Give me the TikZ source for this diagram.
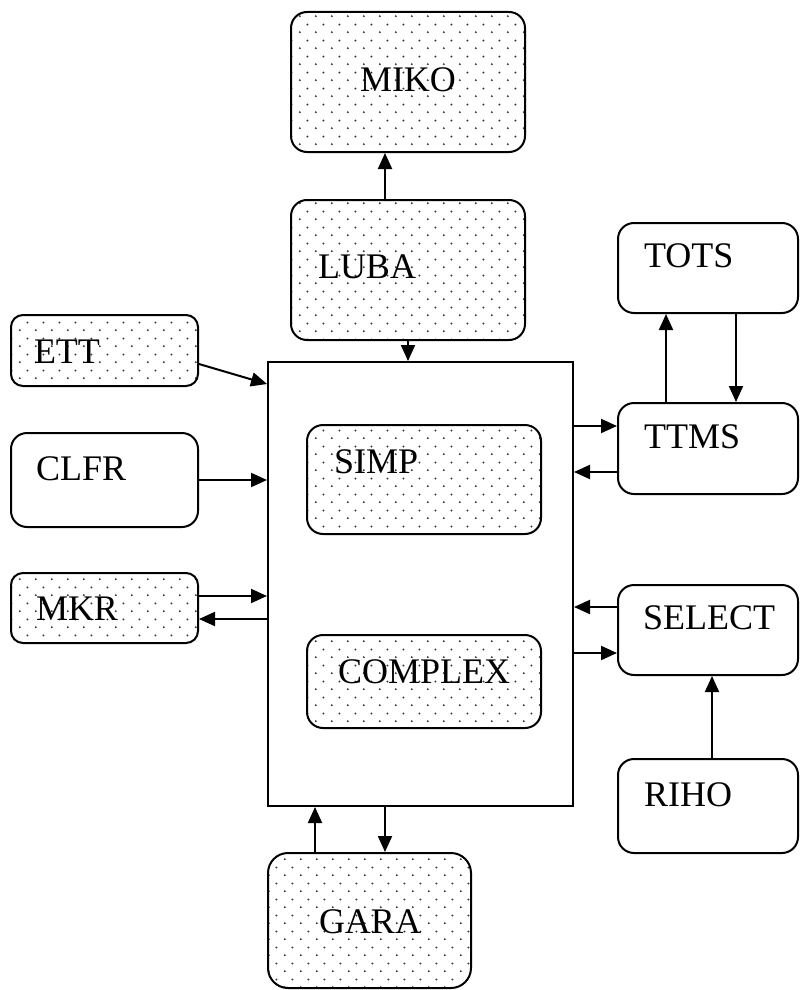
\documentclass[tikz,border=0pt]{standalone}
\usepackage{fontspec}
\setmainfont{Liberation Serif}
\usetikzlibrary{arrows.meta, calc, patterns.meta}

\tikzdeclarepattern{
name=finedots,
type=uncolored,
bounding box={(0pt,0pt) and (7.8pt,7.8pt)},
tile size={(7.8pt,7.8pt)},
code={
\fill (1.95pt,1.95pt) circle (0.55pt);
\fill (5.85pt,5.85pt) circle (0.55pt);
}
}

\begin{document}
\begin{tikzpicture}[
x=0.5pt, y=-0.5pt,
line width=1pt,
blk/.style={
rectangle,
draw,
rounded corners=8pt,
inner sep=0pt,
},
dotted blk/.style={
blk,
pattern=finedots,
pattern color=black!80,
},
txt/.style={
anchor=base west,
inner sep=0pt,
font=\fontsize{18}{20}\selectfont,
},
arr/.style={-{Triangle[length=8pt, width=7pt]}},
]

\useasboundingbox (0,0) rectangle (799,990);

% boxes
\node [dotted blk, minimum width=117pt, minimum height=70pt] at (408,82) (miko) {};
\node [dotted blk, minimum width=117pt, minimum height=70pt] at (408,270) (luba) {};
\node [dotted blk, rounded corners=6pt, minimum width=93.5pt, minimum height=35.5pt] at (104.5,350.5) (ett) {};
\node [blk, minimum width=93.5pt, minimum height=47pt] at (104.5,480) (clfr) {};
\node [dotted blk, rounded corners=6pt, minimum width=93.5pt, minimum height=35pt] at (104.5,608) (mkr) {};
\node [draw, rectangle, inner sep=0pt, minimum width=152.5pt, minimum height=222pt] at (420.5,584) (main) {};
\node [dotted blk, minimum width=117pt, minimum height=54.5pt] at (424,479.5) (simp) {};
\node [dotted blk, minimum width=117pt, minimum height=46.5pt] at (424,681.5) (complex) {};
\node [blk, minimum width=90pt, minimum height=45pt] at (708,268) (tots) {};
\node [blk, minimum width=90pt, minimum height=45.5pt] at (708,448.5) (ttms) {};
\node [blk, minimum width=90pt, minimum height=45pt] at (708,630) (select) {};
\node [blk, minimum width=90pt, minimum height=47pt] at (708,806) (riho) {};
\node [dotted blk, rounded corners=10pt, minimum width=101.5pt, minimum height=67.5pt] at (369.5,920.5) (gara) {};

% labels
\path[every node/.style={txt}]
(359,92) node (tmiko) {MIKO}
(317,278) node (tluba) {LUBA}
(33,363) node (tett) {ETT}
(35,480) node (tclfr) {CLFR}
(35,620) node (tmkr) {MKR}
(333,473) node (tsimp) {SIMP}
(337,683) node (tcomplex) {COMPLEX}
(643,267) node (ttots) {TOTS}
(643,448) node (tttms) {TTMS}
(642,629) node (tselect) {SELECT}
(643,806) node (triho) {RIHO}
(318,933) node (tgara) {GARA}
;

% connections
\draw[arr] ($(luba.north)+(-23,0)$) -- ($(miko.south)+(-23,0)$);
\draw[arr] (luba.south) -- (luba.south |- main.north);
\draw[arr] ($(ett.east)+(0,13.5)$) -- ($(main.north west)+(0,23)$);
\draw[arr] (clfr.east) -- (clfr.east -| main.west);
\draw[arr] ($(mkr.east)+(0,-12)$) -- ($(mkr.east -| main.west)+(0,-12)$);
\draw[arr] ($(mkr.east -| main.west)+(0,11)$) -- ($(mkr.east)+(0,11)$);
\draw[arr] ($(ttms.west -| main.east)+(0,-22.5)$) -- ($(ttms.west)+(0,-22.5)$);
\draw[arr] ($(ttms.west)+(0,23.5)$) -- ($(ttms.west -| main.east)+(0,23.5)$);
\draw[arr] ($(ttms.north)+(-42,0)$) -- ($(tots.south)+(-42,0)$);
\draw[arr] ($(tots.south)+(28,0)$) -- ($(ttms.north)+(28,0)$);
\draw[arr] ($(select.west)+(0,-23)$) -- ($(select.west -| main.east)+(0,-23)$);
\draw[arr] ($(select.west -| main.east)+(0,23)$) -- ($(select.west)+(0,23)$);
\draw[arr] ($(riho.north)+(4,0)$) -- ($(select.south)+(4,0)$);
\draw[arr] ($(gara.north)+(-54.5,0)$) -- ($(gara.north |- main.south)+(-54.5,0)$);
\draw[arr] ($(gara.north |- main.south)+(15.5,0)$) -- ($(gara.north)+(15.5,0)$);

\end{tikzpicture}
\end{document}
